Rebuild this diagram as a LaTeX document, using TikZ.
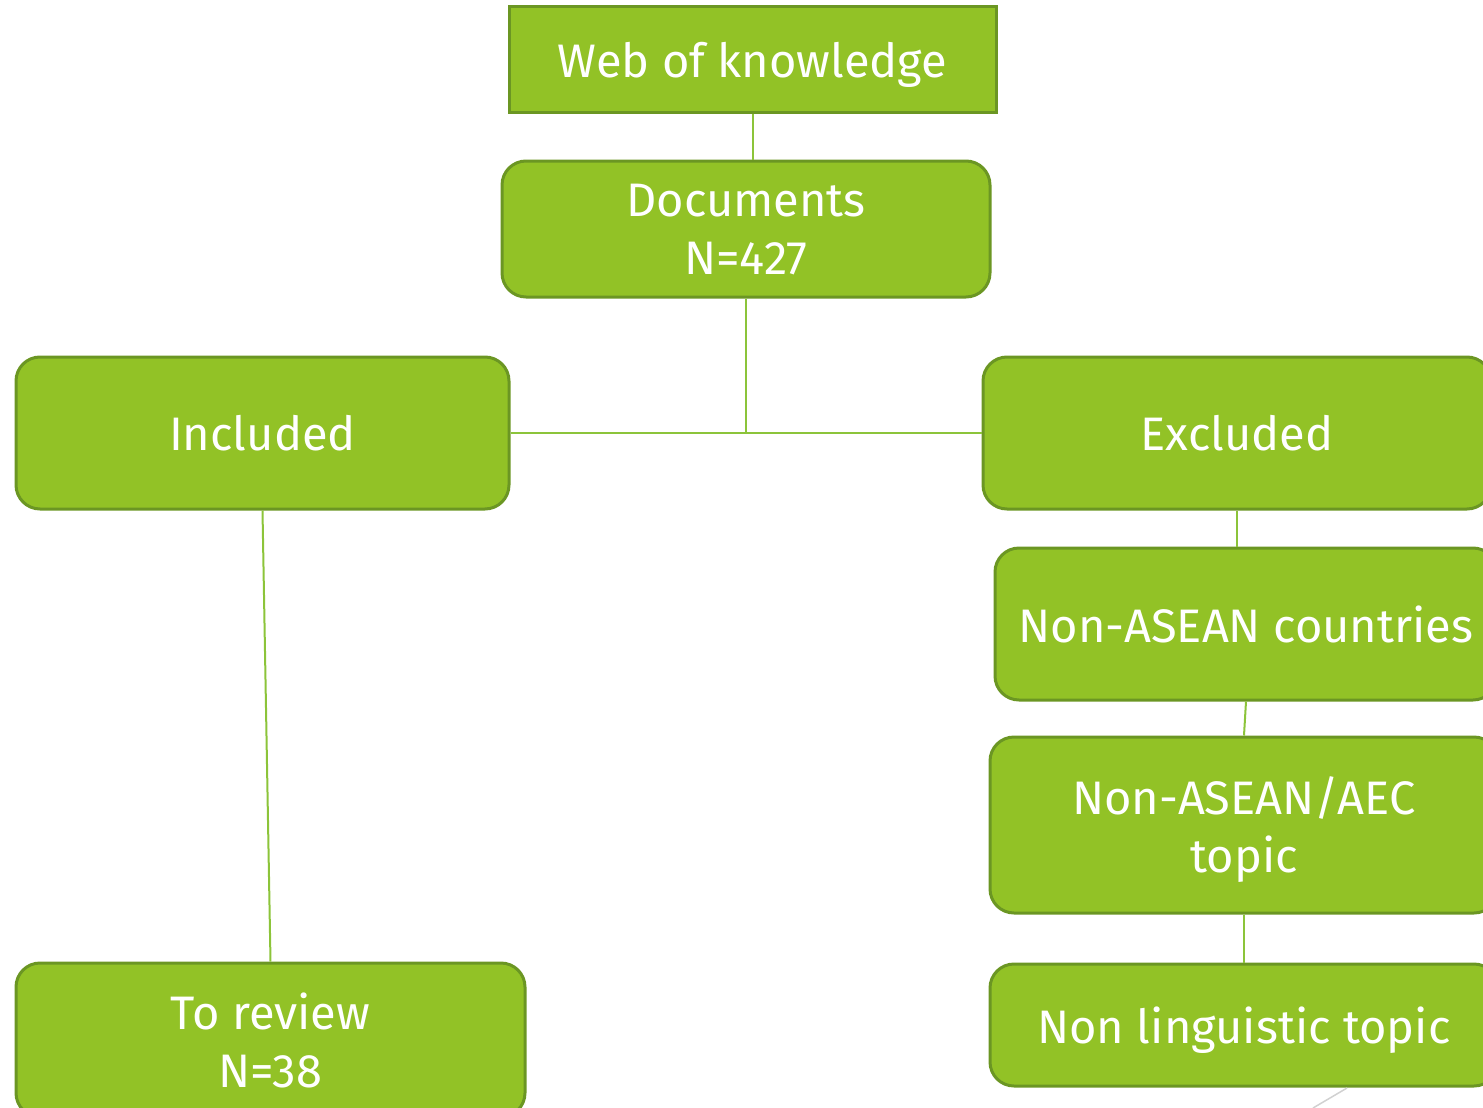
\documentclass[tikz,border=0pt]{standalone}
\usepackage{fontspec}
\setmainfont{Fira Sans}

\definecolor{boxgreen}{HTML}{92C226}
\definecolor{boxedge}{HTML}{6B9623}
\definecolor{linkgreen}{HTML}{8CC43A}

\begin{document}
\begin{tikzpicture}[x=1pt,y=-1pt,
    box/.style={draw=boxedge,line width=3pt,fill=boxgreen,text=white,
        rounded corners=24pt,align=center,inner sep=0pt,text depth=0pt,
        font=\fontsize{47}{58}\selectfont},
    link/.style={draw=linkgreen,line width=2pt}]
    \useasboundingbox (0,0) rectangle (1483,1108);
    \clip (0,0) rectangle (1483,1108);

    \node[box,rounded corners=0pt,minimum width=487pt,minimum height=105pt] (web) at (752.5,59.5) {Web of knowledge};
    \node[box,minimum width=488pt,minimum height=136pt] (docs) at (746,229) {Documents\\N=427};

    \node[box,minimum width=493pt,minimum height=152pt] (incl) at (262.5,433) {Included};
    \node[box,minimum width=508pt,minimum height=152pt] (excl) at (1237,433) {Excluded};

    \node[box,minimum width=502pt,minimum height=152pt] (nac) at (1246,624) {Non-ASEAN countries};
    \node[box,minimum width=508pt,minimum height=176pt] (aec) at (1244,825) {Non-ASEAN/AEC\\topic};
    \node[box,minimum width=508pt,minimum height=122pt] (nlt) at (1244,1025) {Non linguistic topic};

    \node[box,minimum width=509pt,minimum height=154pt] (rev) at (270.5,1040) {To review\\N=38};

    \draw[link] (web.south) -- (web.south |- docs.north);
    \draw[link] (docs.south) -- (docs.south |- incl.east);
    \draw[link] (incl.east) -- (excl.west);
    \draw[link] (incl.south) -- (rev.north);
    \draw[link] (excl.south) -- (excl.south |- nac.north);
    \draw[link] (nac.south) -- (aec.north);
    \draw[link] (aec.south) -- (nlt.north);

    \draw[black!18,line width=1.5pt] (1313,1108) -- (1347,1088);
\end{tikzpicture}
\end{document}
